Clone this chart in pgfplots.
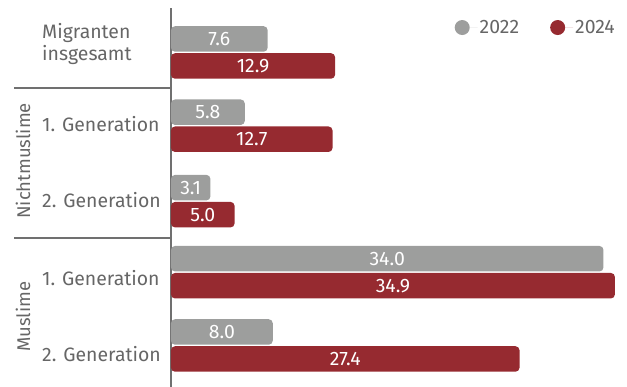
\documentclass[border=0pt]{standalone}
\usepackage{fontspec}
\setmainfont{Fira Sans}
\usepackage{pgfplots}
\usepackage{pgfplotstable}
\pgfplotsset{compat=1.18}
\definecolor{c22}{HTML}{9D9E9D}
\definecolor{c24}{HTML}{962A30}
\definecolor{txt}{HTML}{666666}
\definecolor{ax}{HTML}{707070}
\newdimen\rbxa \newdimen\rbya \newdimen\rbxb \newdimen\rbyb \newdimen\rbxm
\makeatletter
\def\pgfpathrectanglecorners#1#2{%
  \pgf@process{#1}\rbxa=\pgf@x \rbya=\pgf@y
  \pgf@process{#2}\rbxb=\pgf@x \rbyb=\pgf@y
  \rbxm=\rbxa \advance\rbxm by \rbxb \divide\rbxm by 2
  \pgfpathmoveto{\pgfqpoint{\rbxm}{\rbya}}%
  \pgfpathlineto{\pgfqpoint{\rbxb}{\rbya}}%
  \pgfpathlineto{\pgfqpoint{\rbxb}{\rbyb}}%
  \pgfpathlineto{\pgfqpoint{\rbxa}{\rbyb}}%
  \pgfpathlineto{\pgfqpoint{\rbxa}{\rbya}}%
  \pgfpathlineto{\pgfqpoint{\rbxm}{\rbya}}%
  \pgfpathclose}
\makeatother
\pgfplotstableread{
y v22 v24
4 7.6 12.9
3 5.8 12.7
1.97 3.1 5.0
1 34.0 34.9
0 8.0 27.4
}\data
\begin{document}
\begin{tikzpicture}[font=\fontsize{19.5}{22}\selectfont]
\path[use as bounding box] (-171bp,0) -- (456bp,0) -- (456bp,387bp) -- (-171bp,387bp) -- cycle;
\begin{axis}[
 at={(0,0)}, anchor=south west,
 scale only axis, width=456bp, height=379bp,
 xmin=0, xmax=35.85, ymin=-0.567, ymax=4.607,
 xbar, bar width=25.5bp,
 axis lines*=left, x axis line style={draw=none}, y axis line style={ax, line width=1.2bp},
 xtick=\empty, ytick=\empty,
 clip=false,
 legend columns=2,
 legend style={draw=none, fill=none, at={(1,1)}, anchor=north east, text=txt,
   font=\fontsize{19.5}{22}\selectfont, xshift=-7bp, yshift=-8bp,
   /tikz/every even column/.append style={column sep=29bp}},
 /pgf/number format/assume math mode=true,
]
\addplot[fill=c22, draw=none, rounded corners=4bp, bar shift=13.5bp,
  legend image code/.code={\fill[c22] (0,0) circle (7.5bp); \path (-7.5bp,0) -- (15.5bp,0);}] table[x=v22, y=y] {\data};
\addplot[fill=c24, draw=none, rounded corners=4bp, bar shift=-13.5bp,
  legend image code/.code={\fill[c24] (0,0) circle (7.5bp); \path (-7.5bp,0) -- (15.5bp,0);}] table[x=v24, y=y] {\data};
\legend{2022,2024}
\addplot[forget plot, draw=none, fill=none, bar shift=13.5bp, nodes near coords, point meta=explicit symbolic,
  every node near coord/.style={anchor=center, text=white, yshift=13.5bp, font=\fontsize{19.5}{22}\selectfont}]
  table[x expr=\thisrow{v22}/2, y=y, meta=v22] {\data};
\addplot[forget plot, draw=none, fill=none, bar shift=-13.5bp, nodes near coords, point meta=explicit symbolic,
  every node near coord/.style={anchor=center, text=white, yshift=-13.5bp, font=\fontsize{19.5}{22}\selectfont}]
  table[x expr=\thisrow{v24}/2, y=y, meta=v24] {\data};
\node[anchor=west, align=left, text=txt, inner sep=0pt] at (axis cs:-10.14,4.116) {Migranten\\insgesamt};
\node[anchor=west, text=txt, inner sep=0pt] at (axis cs:-10.14,3.017) {1. Generation};
\node[anchor=west, text=txt, inner sep=0pt] at (axis cs:-10.14,1.99) {2. Generation};
\node[anchor=west, text=txt, inner sep=0pt] at (axis cs:-10.14,0.92) {1. Generation};
\node[anchor=west, text=txt, inner sep=0pt] at (axis cs:-10.14,-0.116) {2. Generation};
\draw[ax, line width=1.2bp] (axis cs:-12.34,3.515) -- (axis cs:0,3.515);
\draw[ax, line width=1.2bp] (axis cs:-12.34,1.468) -- (axis cs:0,1.468);
\node[rotate=90, text=txt, inner sep=0pt, font=\fontsize{18.5}{22}\selectfont] at (axis cs:-11.64,2.52) {Nichtmuslime};
\node[rotate=90, text=txt, inner sep=0pt, font=\fontsize{18.5}{22}\selectfont] at (axis cs:-11.64,0.39) {Muslime};
\end{axis}
\end{tikzpicture}
\end{document}
